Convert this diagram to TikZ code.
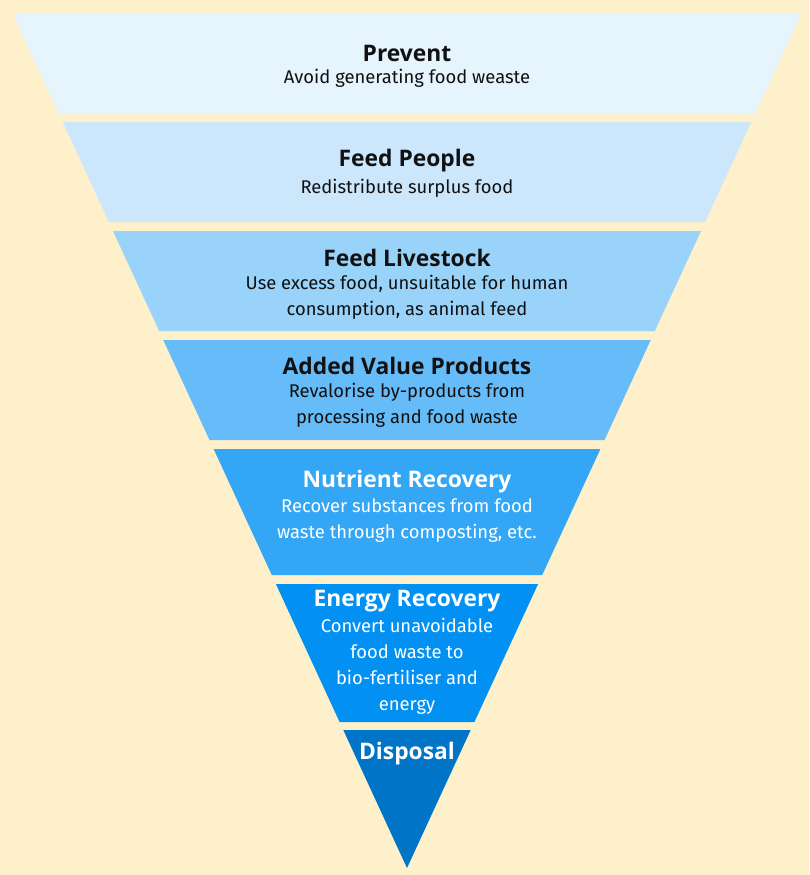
\documentclass[tikz,border=0pt]{standalone}
\usepackage{fontspec}
\setmainfont{Fira Sans}
\newfontfamily\titelfont{Open Sans}
\usepackage{tikz}
\definecolor{creme}{HTML}{FDF0CB}
\definecolor{stufea}{HTML}{E6F4FE}
\definecolor{stufeb}{HTML}{CCE7FC}
\definecolor{stufec}{HTML}{99D3FA}
\definecolor{stufed}{HTML}{66BCF8}
\definecolor{stufee}{HTML}{33A6F6}
\definecolor{stufef}{HTML}{0291F3}
\definecolor{stufeg}{HTML}{0075C8}
\definecolor{dunkel}{HTML}{111111}
\tikzset{
  titel/.style={font=\titelfont\fontsize{22.8}{27}\selectfont\bfseries,inner sep=0pt,dunkel},
  titelw/.style={titel,white},
  txt/.style={font=\fontsize{18.4}{26}\selectfont,inner sep=0pt,align=center,dunkel},
  txtw/.style={txt,white},
}
\begin{document}
\begin{tikzpicture}[x=1pt,y=-1pt]
  \fill[creme] (0,0) rectangle (809,875);
  \useasboundingbox (0,0) rectangle (809,875);
  % Stufen des Trichters
  \fill[stufea] (12.9,14) -- (801.1,14) -- (755,114) -- (59,114) -- cycle;
  \fill[stufeb] (62.7,122) -- (751.3,122) -- (705.1,222) -- (108.9,222) -- cycle;
  \fill[stufec] (113,231) -- (701,231) -- (654.8,331) -- (159.2,331) -- cycle;
  \fill[stufed] (163.3,340) -- (650.7,340) -- (604.5,440) -- (209.5,440) -- cycle;
  \fill[stufee] (213.6,449) -- (600.4,449) -- (542.2,575) -- (271.8,575) -- cycle;
  \fill[stufef] (275.9,584) -- (538.1,584) -- (474.4,722) -- (339.6,722) -- cycle;
  \fill[stufeg] (343.3,730) -- (470.7,730) -- (407,868) -- cycle;
  % Beschriftungen
  \node[titel] (prevent) at (407,53) {Prevent};
  \node[txt] (preventtxt) at (407,78) {Avoid generating food weaste};
  \node[titel] (people) at (407,161) {Feed People};
  \node[txt] (peopletxt) at (407,188) {Redistribute surplus food};
  \node[titel] (livestock) at (407,258) {Feed Livestock};
  \node[txt] (livestocktxt) at (407,297) {Use excess food, unsuitable for human\\consumption, as animal feed};
  \node[titel] (added) at (407,366) {Added Value Products};
  \node[txt] (addedtxt) at (407,405) {Revalorise by-products from\\processing and food waste};
  \node[titelw] (nutrient) at (407,482) {Nutrient Recovery};
  \node[txtw] (nutrienttxt) at (407,521) {Recover substances from food\\waste through composting, etc.};
  \node[titelw] (energy) at (407,601) {Energy Recovery};
  \node[txtw] (energytxt) at (407,666) {Convert unavoidable\\food waste to\\bio-fertiliser and\\energy};
  \node[titelw] (disposal) at (407,754) {Disposal};
\end{tikzpicture}
\end{document}
